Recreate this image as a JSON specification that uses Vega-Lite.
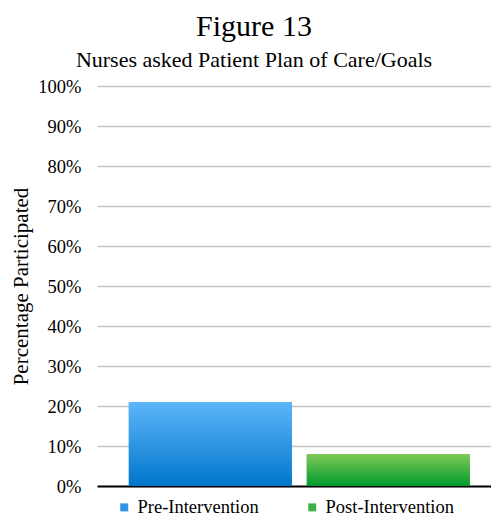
{
  "$schema": "https://vega.github.io/schema/vega-lite/v6.json",
  "width": 394,
  "height": 400,
  "autosize": {"type": "none"},
  "padding": {"left": 97, "top": 86, "right": 0, "bottom": 33},
  "background": "white",
  "title": {
    "text": "Figure 13",
    "subtitle": "Nurses asked Patient Plan of Care/Goals",
    "anchor": "middle",
    "dx": -40,
    "font": "Liberation Serif",
    "fontSize": 30,
    "fontWeight": "normal",
    "color": "black",
    "subtitleFont": "Liberation Serif",
    "subtitleFontSize": 22,
    "subtitleColor": "black",
    "subtitlePadding": 8,
    "offset": 6
  },
  "config": {
    "view": {"stroke": null},
    "font": "Liberation Serif",
    "axis": {"labelFont": "Liberation Serif", "titleFont": "Liberation Serif"},
    "legend": {"labelFont": "Liberation Serif", "titleFont": "Liberation Serif"}
  },
  "data": {
    "values": [
      {"group": "Pre-Intervention", "pct": 21},
      {"group": "Post-Intervention", "pct": 8}
    ]
  },
  "encoding": {
    "x": {
      "field": "group",
      "type": "nominal",
      "sort": ["Pre-Intervention", "Post-Intervention"],
      "scale": {"paddingInner": 0.084, "paddingOuter": 0.149, "align": 0.6},
      "axis": {"labels": false, "ticks": false, "title": null, "domainColor": "black", "domainWidth": 2}
    },
    "y": {
      "field": "pct",
      "type": "quantitative",
      "scale": {"domain": [0, 100]},
      "axis": {
        "values": [0, 10, 20, 30, 40, 50, 60, 70, 80, 90, 100],
        "labelExpr": "datum.value + '%'",
        "title": "Percentage Participated",
        "titleFont": "Liberation Serif",
        "titleFontSize": 21,
        "titleFontWeight": "normal",
        "titleColor": "black",
        "titlePadding": 6,
        "labelFont": "Liberation Serif",
        "labelFontSize": 18.5,
        "labelColor": "black",
        "labelPadding": 16,
        "ticks": false,
        "domain": false,
        "gridColor": "#c4c4c4",
        "gridWidth": 1.5
      }
    }
  },
  "layer": [
    {
      "mark": {"type": "bar"},
      "encoding": {
        "color": {
          "field": "group",
          "type": "nominal",
          "sort": ["Pre-Intervention", "Post-Intervention"],
          "scale": {"domain": ["Pre-Intervention", "Post-Intervention"], "range": ["#2e93e6", "#3cb043"]},
          "legend": {
            "orient": "bottom",
            "direction": "horizontal",
            "title": null,
            "symbolType": "square",
            "symbolSize": 64,
            "symbolStrokeWidth": 0,
            "labelFont": "Liberation Serif",
            "labelFontSize": 18.5,
            "labelColor": "black",
            "labelOffset": 4,
            "columnPadding": 44,
            "padding": 18,
            "offset": -6
          }
        }
      }
    },
    {
      "transform": [{"filter": "datum.group === 'Pre-Intervention'"}],
      "mark": {
        "type": "bar",
        "color": {
          "gradient": "linear", "x1": 0, "y1": 0, "x2": 0, "y2": 1,
          "stops": [{"offset": 0, "color": "#5db6f9"}, {"offset": 1, "color": "#0076cc"}]
        }
      }
    },
    {
      "transform": [{"filter": "datum.group === 'Post-Intervention'"}],
      "mark": {
        "type": "bar",
        "color": {
          "gradient": "linear", "x1": 0, "y1": 0, "x2": 0, "y2": 1,
          "stops": [{"offset": 0, "color": "#80c957"}, {"offset": 1, "color": "#009a2e"}]
        }
      }
    }
  ]
}
